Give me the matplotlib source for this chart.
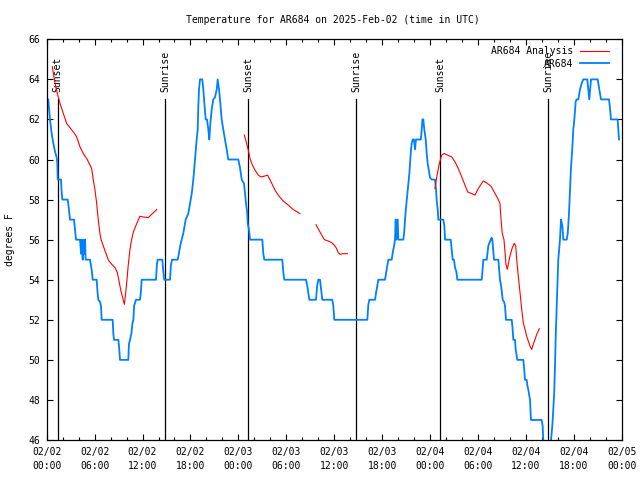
import numpy as np
import pandas as pd
import matplotlib
matplotlib.use("Agg")
import matplotlib.pyplot as plt
import matplotlib.dates as mdates

plt.rcParams['font.family'] = ['DejaVu Sans Mono']
plt.rcParams['font.size'] = 7

BASE = pd.Timestamp("2025-02-02 00:00")

# AR684 observations: (hours since 02/02 00:00 UTC, degrees F)
obs_hours = [0.20, 0.41, 0.62, 0.83, 1.04, 1.25, 1.33, 1.38, 1.79, 1.85, 1.96, 2.63, 2.79, 2.92, 3.42, 3.67,
             4.17, 4.30, 4.38, 4.51, 4.58, 4.72, 4.80, 4.88, 5.42, 5.63, 5.76, 6.26, 6.36, 6.46, 6.67, 6.80,
             6.88, 8.26, 8.35, 8.43, 8.97, 9.05, 9.18, 10.22, 10.30, 10.43, 10.60, 10.73, 10.85, 10.95, 11.18,
             11.68, 11.80, 11.89, 13.69, 13.80, 13.90, 14.48, 14.60, 14.73, 15.44, 15.55, 15.69, 16.40, 16.55,
             16.72, 16.90, 17.10, 17.40, 17.73, 17.94, 18.16, 18.36, 18.57, 18.78, 18.91, 18.98, 19.07, 19.20,
             19.48, 19.61, 19.74, 19.91, 20.07, 20.24, 20.36, 20.49, 20.66, 20.86, 21.07, 21.29, 21.41, 21.58,
             21.70, 21.91, 22.11, 22.33, 22.54, 22.74, 23.99, 24.20, 24.42, 24.71, 24.83, 24.96, 25.12, 25.17,
             25.33, 25.46, 27.00, 27.12, 27.25, 29.50, 29.62, 29.75, 32.47, 32.62, 32.76, 32.89, 33.72, 33.87,
             34.01, 34.22, 34.37, 34.51, 35.76, 35.89, 36.01, 40.15, 40.27, 40.40, 41.11, 41.24, 41.40, 41.53,
             42.36, 42.50, 42.65, 42.78, 43.20, 43.33, 43.50, 43.61, 43.70, 43.78, 43.95, 44.03, 44.65, 44.75,
             44.87, 44.99, 45.16, 45.28, 45.41, 45.50, 45.58, 45.70, 45.83, 45.99, 46.12, 46.24, 46.85, 46.96,
             47.05, 47.16, 47.28, 47.46, 47.58, 47.71, 47.83, 48.00, 48.21, 48.62, 48.75, 48.83, 48.96, 49.04,
             49.66, 49.79, 49.88, 50.59, 50.72, 50.84, 51.00, 51.13, 51.30, 51.42, 54.47, 54.60, 54.67, 55.10,
             55.30, 55.60, 55.72, 55.80, 55.92, 56.01, 56.55, 56.68, 56.76, 56.93, 57.10, 57.26, 57.39, 57.51,
             58.23, 58.35, 58.43, 58.64, 58.73, 58.93, 59.68, 59.80, 59.89, 60.10, 60.20, 60.31, 60.52, 60.64,
             61.98, 62.10, 62.18, 62.40, 62.90, 63.15, 63.31, 63.43, 63.56, 63.65, 63.74, 63.86, 63.99, 64.06,
             64.16, 64.27, 64.40, 64.57, 64.69, 65.11, 65.24, 65.40, 65.53, 65.65, 65.82, 65.94, 66.07, 66.24,
             66.37, 66.57, 66.78, 66.99, 67.19, 67.69, 67.94, 68.16, 68.99, 69.15, 69.28, 69.41, 70.41, 70.55,
             70.66, 71.49, 71.58, 71.66]
obs_temp = [63.0, 62.0, 61.3, 60.8, 60.4, 60.1, 59.8, 59.0, 59.0, 58.5, 58.0, 58.0, 57.5, 57.0, 57.0, 56.0,
            56.0, 55.3, 56.0, 55.0, 56.0, 55.3, 56.0, 55.0, 55.0, 54.5, 54.0, 54.0, 53.4, 53.0, 52.9, 52.7,
            52.0, 52.0, 51.3, 51.0, 51.0, 50.7, 50.0, 50.0, 50.8, 51.0, 51.3, 51.8, 52.0, 52.7, 53.0,
            53.0, 53.4, 54.0, 54.0, 54.8, 55.0, 55.0, 54.4, 54.0, 54.0, 54.7, 55.0, 55.0, 55.3,
            55.7, 56.0, 56.3, 57.0, 57.3, 57.8, 58.3, 59.0, 60.0, 61.0, 61.5, 62.6, 63.5, 64.0,
            64.0, 63.5, 62.8, 62.0, 62.0, 61.5, 61.0, 61.8, 62.5, 63.0, 63.1, 63.5, 64.0, 63.5,
            63.0, 62.0, 61.5, 61.0, 60.5, 60.0, 60.0, 59.6, 59.0, 58.8, 58.3, 57.8, 57.3, 56.8,
            56.5, 56.0, 56.0, 55.3, 55.0, 55.0, 54.4, 54.0, 54.0, 53.7, 53.35, 53.0, 53.0, 53.7,
            54.0, 54.0, 53.5, 53.0, 53.0, 52.7, 52.0, 52.0, 52.75, 53.0, 53.0, 53.35, 53.7, 54.0,
            54.0, 54.35, 54.7, 55.0, 55.0, 55.35, 55.7, 56.0, 57.0, 56.0, 57.0, 56.0, 56.0, 56.3,
            57.0, 57.6, 58.3, 58.8, 59.3, 59.8, 60.3, 60.8, 61.0, 61.0, 60.5, 61.0, 61.0, 61.5,
            62.0, 62.0, 61.5, 61.0, 60.3, 59.8, 59.5, 59.1, 59.0, 59.0, 58.5, 58.0, 57.5, 57.0,
            57.0, 56.7, 56.0, 56.0, 55.5, 55.0, 55.0, 54.6, 54.4, 54.0, 54.0, 54.6, 55.0, 55.0,
            55.7, 56.0, 56.1, 56.0, 55.4, 55.0, 55.0, 54.4, 54.0, 53.6, 53.0, 52.9, 52.7, 52.0,
            52.0, 51.5, 51.0, 51.0, 50.5, 50.0, 50.0, 49.5, 49.0, 49.0, 48.7, 48.5, 48.0, 47.0,
            47.0, 46.7, 46.0, 45.0, 45.0, 46.0, 46.7, 47.5, 48.5, 49.7, 51.2, 52.7, 54.2, 55.0,
            55.5, 56.0, 57.0, 56.7, 56.0, 56.0, 56.3, 57.3, 58.5, 59.6, 60.6, 61.5, 62.0, 62.9,
            63.0, 63.0, 63.5, 63.8, 64.0, 64.0, 63.0, 64.0, 64.0, 63.6, 63.3, 63.0, 63.0, 62.5,
            62.0, 62.0, 61.5, 61.0]

# AR684 Analysis (four separate runs)
ana1_hours = [0.70, 1.04, 1.33, 1.67, 2.08, 2.50, 2.83, 3.33, 3.75, 4.17, 4.58, 5.08, 5.63, 5.84, 6.05, 6.26,
              6.46, 6.67, 6.80, 7.09, 7.39, 7.72, 8.14, 8.55, 8.85, 9.09, 9.30, 9.52, 9.72, 9.85, 10.02,
              10.22, 10.43, 10.64, 10.85, 11.27, 11.68, 12.10, 12.72, 13.15, 13.77]
ana1_temp = [64.63, 63.8, 63.3, 62.8, 62.3, 61.8, 61.63, 61.38, 61.13, 60.63, 60.3, 60.0, 59.55, 58.97, 58.47,
             57.8, 56.97, 56.3, 56.02, 55.68, 55.35, 54.98, 54.77, 54.6, 54.35, 53.85, 53.43, 53.1, 52.77,
             53.18, 53.85, 54.77, 55.52, 56.02, 56.38, 56.8, 57.17, 57.13, 57.1, 57.27, 57.5]
ana2_hours = [24.75, 25.04, 25.24, 25.46, 25.67, 26.08, 26.50, 26.83, 27.25, 27.67, 28.09, 28.59, 29.00, 29.63,
              30.26, 30.88, 31.72]
ana2_temp = [61.22, 60.8, 60.47, 60.05, 59.8, 59.47, 59.22, 59.13, 59.17, 59.22, 58.88, 58.47, 58.22, 57.92,
             57.72, 57.5, 57.3]
ana3_hours = [33.72, 34.22, 34.77, 35.27, 35.69, 35.95, 36.23, 36.51, 36.73, 37.14, 37.64]
ana3_temp = [56.75, 56.38, 56.0, 55.93, 55.85, 55.75, 55.6, 55.35, 55.27, 55.3, 55.3]
ana4_hours = [48.62, 48.84, 49.16, 49.46, 49.75, 50.29, 50.71, 51.13, 51.54, 51.97, 52.38, 52.72, 53.22, 53.63,
              54.04, 54.67, 55.10, 55.63, 56.14, 56.55, 56.76, 56.89, 57.05, 57.26, 57.39, 57.51, 57.68, 57.80,
              58.01, 58.30, 58.55, 58.73, 58.85, 59.05, 59.27, 59.48, 59.68, 59.89, 60.10, 60.31, 60.52, 60.73,
              60.93, 61.14, 61.36, 61.68]
ana4_temp = [58.55, 59.13, 59.8, 60.22, 60.3, 60.2, 60.13, 59.88, 59.55, 59.13, 58.72, 58.38, 58.3, 58.22,
             58.55, 58.93, 58.83, 58.67, 58.3, 58.0, 57.8, 57.0, 56.3, 56.0, 55.35, 54.77, 54.52, 54.77,
             55.18, 55.6, 55.82, 55.68, 55.02, 54.18, 53.35, 52.52, 51.85, 51.52, 51.18, 50.93, 50.68, 50.52,
             50.77, 51.02, 51.27, 51.55]

# Sunrise / sunset events
event_hours = [1.38, 14.85, 25.2, 38.75, 49.27, 62.77]
event_labels = ["Sunset", "Sunrise", "Sunset", "Sunrise", "Sunset", "Sunrise"]
event_top = 63.0

y_min, y_max = 46, 66
title = "Temperature for AR684 on 2025-Feb-02 (time in UTC)"


def to_time(hours):
    return BASE + pd.to_timedelta(np.asarray(hours, dtype=float), unit="h")


ana_hours = ana1_hours + [np.nan] + ana2_hours + [np.nan] + ana3_hours + [np.nan] + ana4_hours
ana_temp = ana1_temp + [np.nan] + ana2_temp + [np.nan] + ana3_temp + [np.nan] + ana4_temp
ana_h = np.array(ana_hours, dtype=float)
ana_t = np.array(ana_temp, dtype=float)

fig = plt.figure(figsize=(6.4, 4.8), dpi=100)
ax = fig.add_axes([46.7 / 640, 40 / 480, 575 / 640, 400.7 / 480])

# events
for h, lab in zip(event_hours, event_labels):
    t = to_time([h])[0]
    ax.plot([t, t], [y_min, event_top], color="black", lw=0.9, zorder=1)
    ax.text(t, event_top + 0.35, lab, rotation=90, ha="center", va="bottom", fontsize=7, zorder=1)

ana_times = BASE + pd.to_timedelta(np.nan_to_num(ana_h, nan=0.0), unit="h")
ana_t_plot = np.where(np.isnan(ana_h), np.nan, ana_t)
ax.plot(ana_times, ana_t_plot, color="#ff0000", lw=0.8, label="AR684 Analysis", zorder=3)
ax.plot(to_time(obs_hours), obs_temp, color="#0080ff", lw=1.3, label="AR684", zorder=2)

ax.set_xlim(BASE, BASE + pd.Timedelta(hours=72))
ax.set_ylim(y_min, y_max)
ax.set_yticks(np.arange(y_min, y_max + 1, 2))
ax.xaxis.set_major_locator(mdates.HourLocator(byhour=range(0, 24, 6)))
ax.xaxis.set_minor_locator(mdates.HourLocator(byhour=range(0, 24, 2)))
ax.xaxis.set_major_formatter(mdates.DateFormatter("%m/%d\n%H:%M"))
ax.tick_params(which="both", direction="in", top=True, right=True, labelsize=7, width=0.8)
ax.tick_params(which="major", length=4)
ax.tick_params(which="minor", length=2)
ax.tick_params(axis="x", pad=5)
ax.tick_params(axis="y", pad=5)
for lbl in ax.get_xticklabels():
    lbl.set_linespacing(1.45)
for sp in ax.spines.values():
    sp.set_linewidth(0.9)

fig.text(0.52, 1 - 20 / 480, title, ha="center", va="center", fontsize=7)
fig.text(10 / 640, 0.5, "degrees F", rotation=90, ha="center", va="center", fontsize=7)

leg = ax.legend(loc="upper right", bbox_to_anchor=(1.0 - 7 / 575, 1.0 - 1 / 400), frameon=False,
                markerfirst=False, handlelength=3.0, handletextpad=0.7, labelspacing=0.28,
                borderaxespad=0.3, borderpad=0.3, fontsize=7)

fig.savefig("out.png", dpi=100)
